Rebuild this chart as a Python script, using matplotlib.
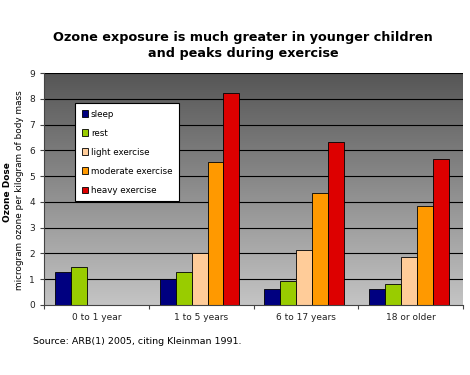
import numpy as np
import matplotlib.pyplot as plt
from matplotlib.colors import LinearSegmentedColormap

groups = ['0 to 1 year', '1 to 5 years', '6 to 17 years', '18 or older']
series = ['sleep', 'rest', 'light exercise', 'moderate exercise', 'heavy exercise']
sleep = [1.27, 1.0, 0.63, 0.61]
rest = [1.47, 1.27, 0.93, 0.82]
light = [np.nan, 2.0, 2.14, 1.85]
moderate = [np.nan, 5.56, 4.35, 3.85]
heavy = [np.nan, 8.22, 6.34, 5.65]
colors = ['#000080', '#99cc00', '#ffcc99', '#ff9900', '#dd0000']

fig = plt.figure(figsize=(4.7, 3.75), dpi=100)
ax = fig.add_axes([44 / 470, 1 - 305 / 375, 419 / 470, 232 / 375])

# gradient background
grad = np.linspace(0, 1, 256).reshape(-1, 1)
cmap = LinearSegmentedColormap.from_list('g', ['#c4c4c4', '#565656'])
ax.imshow(grad, cmap=cmap, origin='lower', aspect='auto',
          extent=[0, 4, 0, 9], zorder=0)

for v in range(1, 10):
    ax.axhline(v, color='black', lw=0.8, zorder=1)

w = 0.152
off = 0.105
data = [sleep, rest, light, moderate, heavy]
for i, (vals, name, c) in enumerate(zip(data, series, colors)):
    x = np.arange(4) + off + i * w
    ax.bar(x, vals, width=w, align='edge', color=c, edgecolor='black',
           lw=0.6, label=name, zorder=2)

ax.set_xlim(0, 4)
ax.set_ylim(0, 9)
ax.set_yticks(range(10))
ax.set_xticks(np.arange(5))
ax.set_xticklabels([])
ax.set_xticks(np.arange(4) + 0.5, minor=True)
ax.set_xticklabels(groups, minor=True)
ax.tick_params(axis='x', which='minor', length=0, pad=6, labelsize=6.5,
               labelcolor='#222222')
ax.tick_params(axis='x', which='major', length=3, color='#444444')
ax.tick_params(axis='y', length=3, color='#444444', labelsize=6.5,
               labelcolor='#222222')
for s in ['top', 'right']:
    ax.spines[s].set_visible(False)
ax.spines['left'].set_color('#444444')
ax.spines['bottom'].set_color('#444444')

leg = ax.legend(loc='upper left', bbox_to_anchor=(31 / 419, 1 - 30 / 232),
                fontsize=6.3, frameon=True, fancybox=False, framealpha=1,
                handlelength=0.75, handleheight=0.75, handletextpad=0.3,
                labelspacing=1.15, borderpad=0.75, borderaxespad=0)
leg.get_frame().set_edgecolor('black')
leg.get_frame().set_facecolor('white')
leg.get_frame().set_linewidth(0.8)

fig.text(243 / 470, 1 - 37 / 375, 'Ozone exposure is much greater in younger children',
         ha='center', va='center', fontsize=9.2, fontweight='bold')
fig.text(243 / 470, 1 - 53 / 375, 'and peaks during exercise',
         ha='center', va='center', fontsize=9.2, fontweight='bold')
fig.text(8 / 470, 1 - 192 / 375, 'Ozone Dose', rotation=90, ha='center',
         va='center', fontsize=6.5, fontweight='bold')
fig.text(20 / 470, 1 - 190 / 375, 'microgram ozone per kilogram of body mass',
         rotation=90, ha='center', va='center', fontsize=6.4)
fig.text(33 / 470, 1 - 342 / 375, 'Source: ARB(1) 2005, citing Kleinman 1991.',
         ha='left', va='center', fontsize=6.8)

fig.savefig('out.png', dpi=100)
